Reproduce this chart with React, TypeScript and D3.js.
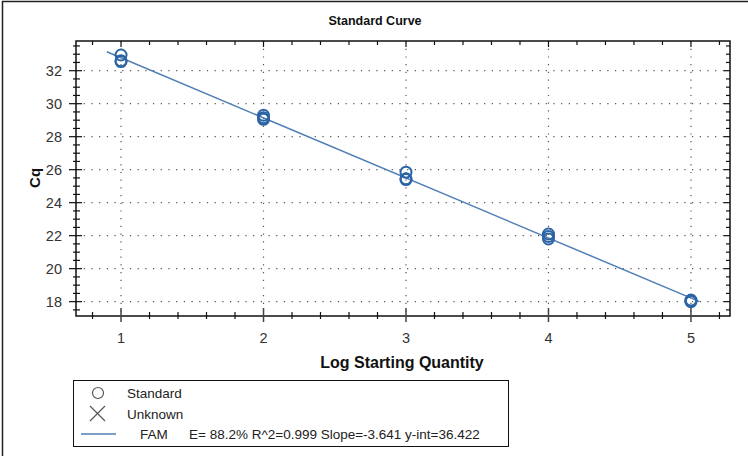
import { useEffect, useRef } from "react";
import * as d3 from "d3";

const WIDTH = 748;
const HEIGHT = 456;
const FONT = "'Liberation Sans', Arial, sans-serif";

const logQuantity = [1, 1, 1, 2, 2, 2, 3, 3, 3, 4, 4, 4, 5, 5, 5];
const cqValues = [32.95, 32.6, 32.55, 29.3, 29.15, 29.05, 25.85, 25.45, 25.4, 22.1, 21.95, 21.8, 18.1, 18.05, 18.0];
const xTickLabels = [1, 2, 3, 4, 5];
const yTickLabels = [18, 20, 22, 24, 26, 28, 30, 32];
const fitSlope = -3.641;
const fitIntercept = 36.422;
const fitRange = [0.9, 5.06];
const legendItems = ["Standard", "Unknown"];
const fitLabel = "FAM";
const fitStats = "E= 88.2% R^2=0.999 Slope=-3.641 y-int=36.422";

const MARGIN = { top: 41, right: 18, bottom: 140, left: 76 };
const SERIES_COLOR = "#2c64a4";
const LINE_COLOR = "#4f7fb6";

export default function App() {
  const ref = useRef<SVGSVGElement>(null);

  useEffect(() => {
    const svg = d3.select(ref.current);
    svg.selectAll("*").remove();

    const boundsWidth = WIDTH - MARGIN.left - MARGIN.right;
    const boundsHeight = HEIGHT - MARGIN.top - MARGIN.bottom;

    const x = d3.scaleLinear().domain([0.684, 5.274]).range([0, boundsWidth]);
    const y = d3.scaleLinear().domain([17.13, 33.8]).range([boundsHeight, 0]);

    // outer frame
    svg.append("path").attr("d", `M2.5,${HEIGHT + 5} V1.5 H${WIDTH + 5}`)
      .attr("fill", "none").attr("stroke", "#222").attr("stroke-width", 1.5);

    svg.append("text")
      .attr("x", 375).attr("y", 25)
      .attr("text-anchor", "middle")
      .attr("font-family", FONT).attr("font-size", 12.5).attr("font-weight", "bold")
      .attr("fill", "#111")
      .text("Standard Curve");

    const g = svg.append("g").attr("transform", `translate(${MARGIN.left},${MARGIN.top})`);

    // dotted grid
    g.selectAll(".gx").data(xTickLabels).join("line")
      .attr("x1", (d) => x(d)).attr("x2", (d) => x(d))
      .attr("y1", 0).attr("y2", boundsHeight)
      .attr("stroke", "#555").attr("stroke-width", 1.2).attr("stroke-dasharray", "1.2,6.5");
    g.selectAll(".gy").data(yTickLabels).join("line")
      .attr("x1", 0).attr("x2", boundsWidth)
      .attr("y1", (d) => y(d)).attr("y2", (d) => y(d))
      .attr("stroke", "#555").attr("stroke-width", 1.2).attr("stroke-dasharray", "1.2,6.5");

    // frame
    g.append("rect").attr("x", 0).attr("y", 0)
      .attr("width", boundsWidth).attr("height", boundsHeight)
      .attr("fill", "none").attr("stroke", "#111").attr("stroke-width", 1.5);

    // ticks
    const xMinor = d3.range(0.8, 5.21, 0.2);
    const yMinor = d3.range(17.5, 33.6, 0.5);
    const isMajor = (v: number, vals: number[]) => vals.some((t) => Math.abs(t - v) < 1e-6);

    xMinor.forEach((v) => {
      const major = isMajor(v, xTickLabels);
      const px = x(v);
      g.append("line").attr("x1", px).attr("x2", px)
        .attr("y1", boundsHeight - (major ? 8 : 4)).attr("y2", boundsHeight + (major ? 6 : 3))
        .attr("stroke", major ? "#444" : "#111").attr("stroke-width", major ? 1.5 : 1.2);
      g.append("line").attr("x1", px).attr("x2", px)
        .attr("y1", 0).attr("y2", major ? 6 : 4)
        .attr("stroke", "#111").attr("stroke-width", 1.2);
    });

    yMinor.forEach((v) => {
      const major = isMajor(v, yTickLabels);
      const py = y(v);
      g.append("line").attr("x1", major ? -7 : -3).attr("x2", major ? 6 : 4)
        .attr("y1", py).attr("y2", py)
        .attr("stroke", "#111").attr("stroke-width", 1.2);
      g.append("line").attr("x1", boundsWidth - (major ? 6 : 4)).attr("x2", boundsWidth)
        .attr("y1", py).attr("y2", py)
        .attr("stroke", "#111").attr("stroke-width", 1.2);
    });

    // tick labels
    g.selectAll(".xl").data(xTickLabels).join("text")
      .attr("x", (d) => x(d)).attr("y", boundsHeight + 27)
      .attr("text-anchor", "middle")
      .attr("font-family", FONT).attr("font-size", 14.5).attr("fill", "#333")
      .text((d) => d);
    g.selectAll(".yl").data(yTickLabels).join("text")
      .attr("x", -14).attr("y", (d) => y(d) + 5)
      .attr("text-anchor", "end")
      .attr("font-family", FONT).attr("font-size", 14.5).attr("fill", "#333")
      .text((d) => d);

    // axis titles
    svg.append("text")
      .attr("transform", `translate(40,${MARGIN.top + y(25.5)}) rotate(-90)`)
      .attr("text-anchor", "middle")
      .attr("font-family", FONT).attr("font-size", 15).attr("font-weight", "bold")
      .attr("fill", "#111")
      .text("Cq");
    svg.append("text")
      .attr("x", 402).attr("y", 368)
      .attr("text-anchor", "middle")
      .attr("font-family", FONT).attr("font-size", 16).attr("font-weight", "bold")
      .attr("fill", "#111")
      .text("Log Starting Quantity");

    // fit line
    g.append("line")
      .attr("x1", x(fitRange[0])).attr("y1", y(fitIntercept + fitSlope * fitRange[0]))
      .attr("x2", x(fitRange[1])).attr("y2", y(fitIntercept + fitSlope * fitRange[1]))
      .attr("stroke", LINE_COLOR).attr("stroke-width", 1.5);

    // points
    g.selectAll(".pt").data(logQuantity).join("circle")
      .attr("cx", (d) => x(d)).attr("cy", (_, i) => y(cqValues[i]))
      .attr("r", 5.5)
      .attr("fill", "none").attr("stroke", SERIES_COLOR).attr("stroke-width", 2);

    // legend
    const lg = svg.append("g");
    lg.append("rect").attr("x", 73.5).attr("y", 380.5).attr("width", 435).attr("height", 66)
      .attr("fill", "#fff").attr("stroke", "#111").attr("stroke-width", 1);
    lg.append("circle").attr("cx", 98).attr("cy", 393).attr("r", 5.5)
      .attr("fill", "none").attr("stroke", "#555").attr("stroke-width", 1.2);
    lg.append("path").attr("d", "M90,406 L105,421 M105,406 L90,421")
      .attr("stroke", "#555").attr("stroke-width", 1.2);
    lg.append("line").attr("x1", 81).attr("x2", 116).attr("y1", 434).attr("y2", 434)
      .attr("stroke", LINE_COLOR).attr("stroke-width", 1.5);
    legendItems.forEach((t, i) => {
      lg.append("text").attr("x", 127).attr("y", 398 + i * 21)
        .attr("font-family", FONT).attr("font-size", 13.5).attr("fill", "#222")
        .text(t);
    });
    lg.append("text").attr("x", 140).attr("y", 439)
      .attr("font-family", FONT).attr("font-size", 13.5).attr("fill", "#222")
      .text(fitLabel);
    lg.append("text").attr("x", 189).attr("y", 439)
      .attr("font-family", FONT).attr("font-size", 13.5).attr("fill", "#222")
      .text(fitStats);
  }, []);

  return (
    <svg
      ref={ref}
      width={WIDTH}
      height={HEIGHT}
      style={{ position: "absolute", left: 0, top: 0, background: "#fff" }}
    />
  );
}
